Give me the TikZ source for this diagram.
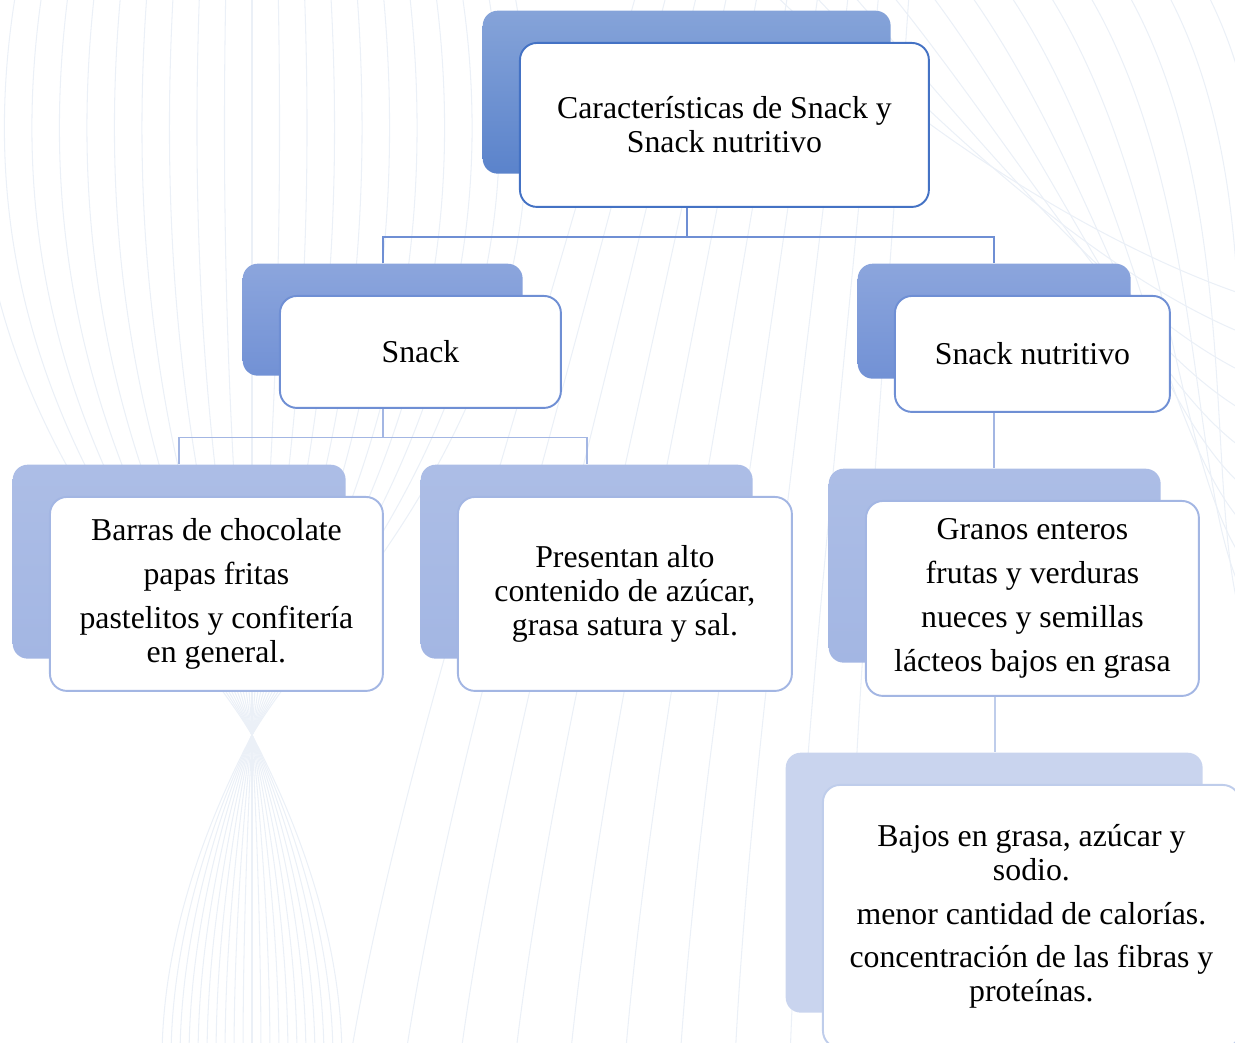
\documentclass[tikz,border=0pt]{standalone}
\usepackage{fontspec}
\setmainfont{Liberation Serif}
\usetikzlibrary{positioning,backgrounds}

\definecolor{lineA}{HTML}{4472C4}
\definecolor{lineB}{HTML}{6F8FD4}
\definecolor{lineC}{HTML}{A3B6E3}
\definecolor{lineD}{HTML}{BFCDEB}
\definecolor{wave}{HTML}{EBF0F7}

\begin{document}
\begin{tikzpicture}[x=0.02cm, y=-0.02cm, thick,
        font=\fontsize{18.1}{19.3}\selectfont,
        back/.style={rounded corners=0.3cm, anchor=north west, inner sep=0pt},
        box/.style={draw, fill=white, rounded corners=0.34cm, align=center,
            inner sep=2pt, line width=1.1pt,
            below right=0.64cm and 0.74cm of #1.north west},
        link/.style={line width=1pt},
        bgline/.style={draw=wave, line width=0.6pt}]
        \useasboundingbox (0,0) rectangle (1235,1043);
        \clip (0,0) rectangle (1235,1043);

        % Nodes
        \node[back, top color=lineA!65, bottom color=lineA!88, minimum width=8.16cm, minimum height=3.26cm] (rootbg) at (482,10) {};
        \node[box=rootbg, draw=lineA, minimum width=8.18cm, minimum height=3.28cm] (root)
            {Características de Snack y\\ Snack nutritivo};

        \node[back, top color=lineB!80, bottom color=lineB!98, minimum width=5.6cm, minimum height=2.24cm] (snackbg) at (242,263) {};
        \node[box=snackbg, draw=lineB, minimum width=5.62cm, minimum height=2.24cm] (snack) {Snack};

        \node[back, top color=lineB!80, bottom color=lineB!98, minimum width=5.46cm, minimum height=2.3cm] (nutbg) at (857,263) {};
        \node[box=nutbg, draw=lineB, minimum width=5.5cm, minimum height=2.32cm] (nut) {Snack nutritivo};

        \node[back, top color=lineC!90, bottom color=lineC, minimum width=6.66cm, minimum height=3.88cm] (barbg) at (12,464) {};
        \node[box=barbg, draw=lineC, minimum width=6.66cm, minimum height=3.88cm] (bar)
            {Barras de chocolate\\[5.6pt] papas fritas\\[5.6pt] pastelitos y confitería\\ en general.};

        \node[back, top color=lineC!90, bottom color=lineC, minimum width=6.64cm, minimum height=3.88cm] (presbg) at (420,464) {};
        \node[box=presbg, draw=lineC, minimum width=6.68cm, minimum height=3.88cm] (pres)
            {Presentan alto\\ contenido de azúcar,\\ grasa satura y sal.};

        \node[back, top color=lineC!90, bottom color=lineC, minimum width=6.64cm, minimum height=3.88cm] (granbg) at (828,468) {};
        \node[box=granbg, draw=lineC, minimum width=6.66cm, minimum height=3.9cm] (gran)
            {Granos enteros\\[5.6pt] frutas y verduras\\[5.6pt] nueces y semillas\\[5.6pt] lácteos bajos en grasa};

        \node[back, fill=lineD!85, minimum width=8.34cm, minimum height=5.2cm] (bajbg) at (785,752) {};
        \node[box=bajbg, draw=lineD, minimum width=8.34cm, minimum height=5.26cm] (baj)
            {Bajos en grasa, azúcar y\\ sodio.\\[5.6pt] menor cantidad de calorías.\\[5.6pt] concentración de las fibras y\\ proteínas.};

        \begin{scope}[on background layer]
            % Waves
            \foreach \i in {-10,...,10}
                \draw[bgline] (252+26*\i,-20) .. controls (252+34*\i,380) and (252+8*\i,600) .. (252,735)
                    .. controls (252-6*\i,850) and (252-9*\i,960) .. (252-9*\i,1060);
            \foreach \i in {0,...,9}
                \draw[bgline] (350+55*\i,1060) .. controls (400+50*\i,760) and (520+40*\i,420) .. (640+30*\i,-20);
            \foreach \i in {0,...,14}
                \draw[bgline] (760+40*\i,-20) .. controls (900+40*\i,120+10*\i) and (1100+10*\i,250+35*\i) .. (1260,300+40*\i);

            % Edges
            \draw[link, draw=lineB] (rootbg.south) -- ++(0,63) -| (snackbg.north);
            \draw[link, draw=lineB] (rootbg.south) -- ++(0,63) -| (nutbg.north);
            \draw[link, draw=lineC] (snackbg.south) -- ++(0,61) -| (barbg.north);
            \draw[link, draw=lineC] (snackbg.south) -- ++(0,61) -| (presbg.north);
            \draw[link, draw=lineC] (nutbg.south) -- (nutbg.south |- granbg.north);
            \draw[link, draw=lineD] (granbg.south) -- (granbg.south |- bajbg.north);
        \end{scope}
    \end{tikzpicture}
\end{document}
